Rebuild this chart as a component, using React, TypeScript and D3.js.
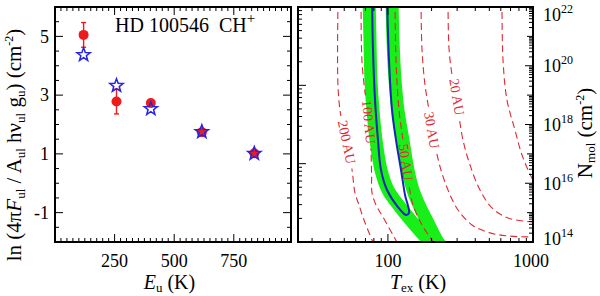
import React from "react";
import * as d3 from "d3";

type Pt = [number, number]; // [T_ex (K), log10 N_mol]

const FONT = "Liberation Serif, DejaVu Serif, serif";

// ---------- Left panel: rotation diagram ----------
const upperEnergy = [120, 258, 402, 616, 836]; // E_u (K)
const observedLn = [5.05, 2.78, 2.73, 1.74, 1.02]; // red circles
const observedErr = [0.42, 0.42, 0.08, 0.06, 0.05];
const modelLn = [4.4, 3.35, 2.56, 1.78, 1.04]; // blue stars
const energyTicks = [250, 500, 750];
const lnTicks = [-1, 1, 3, 5];

// ---------- Right panel: T_ex vs N_mol ----------
const tempTicks = [100, 1000];
const columnExps = [14, 16, 18, 20, 22];

const curve200AU: Pt[] = [[45.3, 22.2], [45.3, 19.28], [47.5, 18.26], [52.2, 17.4], [56.6, 16.45], [59.3, 15.67], [63.2, 15.26], [68.4, 14.75], [77.7, 14.07], [80.5, 13.9]];
const curve100AU: Pt[] = [[65.3, 22.2], [66.3, 20.13], [70.6, 18.83], [74.1, 18.09], [76.4, 17.13], [77.2, 16.28], [77.7, 15.67], [82.8, 15.26], [92.5, 14.85], [115.5, 14.0], [121, 13.85]];
const curve50AU: Pt[] = [[111.9, 22.2], [113.7, 20.2], [119.2, 18.49], [127.0, 17.47], [133.2, 16.72], [139.7, 15.94], [148.9, 15.26], [171.8, 14.58], [204.5, 14.0], [212, 13.85]];
const curve30AU: Pt[] = [[169.1, 22.2], [171.8, 20.54], [180.2, 19.34], [191.9, 18.49], [201.3, 17.81], [214.5, 17.13], [232.2, 16.45], [259.5, 15.77], [304.1, 15.09], [379.8, 14.58], [505.2, 14.31], [694.3, 14.2], [1000, 14.17], [1100, 14.16]];
const curve20AU: Pt[] = [[259.5, 22.2], [263.6, 20.6], [276.5, 19.69], [294.6, 18.94], [309.0, 18.26], [329.2, 17.47], [368.0, 16.62], [431.2, 15.77], [521.6, 15.16], [672.7, 14.82], [1000, 14.68], [1100, 14.67]];
const curve10AU: Pt[] = [[611.4, 22.2], [621.2, 20.2], [662.0, 18.83], [751.5, 17.81], [840, 16.96], [1000, 16.11], [1100, 15.8]];

const radiusLabels = ["200 AU", "100 AU", "50 AU", "30 AU", "20 AU", ""];
const radiusCurves = [curve200AU, curve100AU, curve50AU, curve30AU, curve20AU, curve10AU];
const labelAnchors: (Pt | null)[] = [[52.2, 17.4], [74.1, 18.09], [133.2, 16.72], [201.3, 17.81], [299.4, 18.94], null];

const fitBandLeft: Pt[] = [[74.1, 22.3], [75.2, 20.88], [76.4, 19.52], [78.9, 18.49], [82.8, 17.47], [89.6, 16.45], [100.1, 15.77], [121.1, 15.19], [148.9, 14.65], [195.0, 14.0], [228.6, 13.66]];
const fitBandRight: Pt[] = [[106.7, 22.3], [108.4, 20.88], [111.9, 19.52], [117.3, 18.49], [127.0, 17.47], [137.5, 16.45], [148.9, 15.77], [166.4, 15.19], [188.9, 14.65], [221.4, 14.0], [251.4, 13.66]];
const bestContour: Pt[] = [[77.7, 22.3], [78.9, 20.54], [81.5, 18.83], [85.4, 17.47], [89.6, 16.45], [98.6, 15.77], [117.3, 15.19], [133.2, 14.92], [139.7, 14.99], [131.2, 15.6], [123.1, 16.45], [113.7, 17.47], [106.7, 18.49], [101.7, 20.2], [98.6, 22.3]];

// ---------- scales ----------
const L = { x0: 55, x1: 291, y0: 7, y1: 242 };
const R = { x0: 298, x1: 533, y0: 7, y1: 242 };
const xL = d3.scaleLinear().domain([0, 990]).range([L.x0, L.x1]);
const yL = d3.scaleLinear().domain([-2, 6]).range([L.y1, L.y0]);
const xR = d3.scaleLog().domain([24, 1000]).range([R.x0, R.x1]);
const yR = d3.scaleLinear().domain([14, 22]).range([R.y1, R.y0]); // log10 N
const yRL = d3.scaleLog().domain([1, 1000]).range([R.y1, R.y0]);

const RED = "#ee1b1b";
const BLUE = "#2424e6";
const DASH = "#dd2a35";

function starPath(cx: number, cy: number, ro: number, ri: number) {
  const pts: string[] = [];
  for (let i = 0; i < 10; i++) {
    const r = i % 2 === 0 ? ro : ri;
    const a = -Math.PI / 2 + (i * Math.PI) / 5;
    pts.push(`${cx + r * Math.cos(a)},${cy + r * Math.sin(a)}`);
  }
  return "M" + pts.join("L") + "Z";
}

export default function App() {
  const lineR = d3
    .line<Pt>()
    .x((d) => xR(d[0]))
    .y((d) => yR(d[1]))
    .curve(d3.curveCatmullRom.alpha(0.5));

  const lxMinor = d3.range(25, 990, 25).filter((v) => v % 250 !== 0);
  const lyMinor = d3.range(-1.5, 6, 0.5).filter((v) => !lnTicks.includes(v));

  const rxMinor: number[] = [];
  [10, 100].forEach((dec) => d3.range(2, 10).forEach((m) => { const v = m * dec; if (v > 24 && v < 1000) rxMinor.push(v); }));
  const ryMinor: number[] = [];
  d3.range(14, 22).forEach((e) => d3.range(2, 10).forEach((m) => ryMinor.push(e + Math.log10(m))));
  const ryMid = d3.range(15, 22, 2);
  const rlMinor: number[] = [];
  [1, 10, 100].forEach((dec) => d3.range(2, 10).forEach((m) => rlMinor.push(m * dec)));

  const labels = radiusLabels
    .map((txt, i) => {
      const a = labelAnchors[i];
      if (!a || !txt) return null;
      const pts = radiusCurves[i];
      let best = 0;
      let bd = Infinity;
      pts.forEach((p, j) => {
        const d = Math.abs(yR(p[1]) - yR(a[1])) + Math.abs(xR(p[0]) - xR(a[0]));
        if (d < bd) { bd = d; best = j; }
      });
      const p0 = pts[Math.max(0, best - 1)];
      const p1 = pts[Math.min(pts.length - 1, best + 1)];
      const ang = (Math.atan2(yR(p1[1]) - yR(p0[1]), xR(p1[0]) - xR(p0[0])) * 180) / Math.PI;
      return { txt, x: xR(a[0]), y: yR(a[1]), ang, w: txt.length * 7.6 + 8 };
    })
    .filter(Boolean) as { txt: string; x: number; y: number; ang: number; w: number }[];

  const bandPath = lineR([...fitBandLeft, ...fitBandRight.slice().reverse()]) || "";
  const labelY = (v: number) => Math.min(Math.max(yR(v), 15), 239);

  return (
    <svg width={600} height={296} style={{ position: "absolute", left: 0, top: 0, background: "#fff", fontFamily: FONT }}>
      <defs>
        <clipPath id="clipR">
          <rect x={R.x0} y={R.y0} width={R.x1 - R.x0} height={R.y1 - R.y0} />
        </clipPath>
        <mask id="lblMask" maskUnits="userSpaceOnUse" x={0} y={0} width={600} height={296}>
          <rect x={0} y={0} width={600} height={296} fill="white" />
          {labels.map((l, i) => (
            <rect key={i} x={-l.w / 2} y={-8} width={l.w} height={16} fill="black" transform={`translate(${l.x},${l.y}) rotate(${l.ang})`} />
          ))}
        </mask>
      </defs>
      <rect x={0} y={0} width={600} height={296} fill="#fff" />

      {/* ===== Left panel ===== */}
      <g>
        {upperEnergy.map((e, i) => (
          <g key={"eb" + i} stroke={RED} strokeWidth={1.4}>
            <line x1={xL(e)} x2={xL(e)} y1={yL(observedLn[i] - observedErr[i])} y2={yL(observedLn[i] + observedErr[i])} />
            <line x1={xL(e) - 2.5} x2={xL(e) + 2.5} y1={yL(observedLn[i] - observedErr[i])} y2={yL(observedLn[i] - observedErr[i])} />
            <line x1={xL(e) - 2.5} x2={xL(e) + 2.5} y1={yL(observedLn[i] + observedErr[i])} y2={yL(observedLn[i] + observedErr[i])} />
          </g>
        ))}
        {upperEnergy.map((e, i) => (
          <circle key={"c" + i} cx={xL(e)} cy={yL(observedLn[i])} r={5} fill={RED} />
        ))}
        {upperEnergy.map((e, i) => (
          <path key={"s" + i} d={starPath(xL(e), yL(modelLn[i]) + 0.8, 7, 2.9)} fill="none" stroke={BLUE} strokeWidth={1.5} />
        ))}

        <g stroke="#000" strokeWidth={1}>
          {lxMinor.map((v) => (
            <g key={"lxm" + v}>
              <line x1={xL(v)} x2={xL(v)} y1={L.y1} y2={L.y1 - 4} />
              <line x1={xL(v)} x2={xL(v)} y1={L.y0} y2={L.y0 + 4} />
            </g>
          ))}
          {energyTicks.map((v) => (
            <g key={"lxM" + v}>
              <line x1={xL(v)} x2={xL(v)} y1={L.y1} y2={L.y1 - 8} />
              <line x1={xL(v)} x2={xL(v)} y1={L.y0} y2={L.y0 + 8} />
            </g>
          ))}
          {lyMinor.map((v) => (
            <g key={"lym" + v}>
              <line x1={L.x0} x2={L.x0 + 4} y1={yL(v)} y2={yL(v)} />
              <line x1={L.x1} x2={L.x1 - 4} y1={yL(v)} y2={yL(v)} />
            </g>
          ))}
          {lnTicks.map((v) => (
            <g key={"lyM" + v}>
              <line x1={L.x0} x2={L.x0 + 8} y1={yL(v)} y2={yL(v)} />
              <line x1={L.x1} x2={L.x1 - 8} y1={yL(v)} y2={yL(v)} />
            </g>
          ))}
        </g>
        <rect x={L.x0} y={L.y0} width={L.x1 - L.x0} height={L.y1 - L.y0} fill="none" stroke="#000" strokeWidth={2} />

        {energyTicks.map((v) => (
          <text key={"lxl" + v} x={xL(v)} y={267} fontSize={18} textAnchor="middle">{v}</text>
        ))}
        {lnTicks.map((v) => (
          <text key={"lyl" + v} x={49} y={yL(v)} dy="0.35em" fontSize={18} textAnchor="end">{v}</text>
        ))}
        <text x={xL(480)} y={289} fontSize={20} textAnchor="middle">
          <tspan fontStyle="italic">E</tspan>
          <tspan fontSize={13} dy={3}>u</tspan>
          <tspan dy={-3}> (K)</tspan>
        </text>
        <text transform="translate(21,145) rotate(-90)" fontSize={21} textAnchor="middle">
          <tspan>ln (4π</tspan>
          <tspan fontStyle="italic">F</tspan>
          <tspan fontSize={13} dy={4}>ul</tspan>
          <tspan dy={-4}> / A</tspan>
          <tspan fontSize={13} dy={4}>ul</tspan>
          <tspan dy={-4}> hν</tspan>
          <tspan fontSize={13} dy={4}>ul</tspan>
          <tspan dy={-4}> g</tspan>
          <tspan fontSize={13} dy={4}>u</tspan>
          <tspan dy={-4}>) (cm</tspan>
          <tspan fontSize={12} dy={-8}>-2</tspan>
          <tspan dy={8}>)</tspan>
        </text>
        <text x={115} y={32} fontSize={20} style={{ whiteSpace: "pre" }}>
          {"HD 100546  CH"}
          <tspan fontSize={15} dy={-9}>+</tspan>
        </text>
      </g>

      {/* ===== Right panel ===== */}
      <g clipPath="url(#clipR)">
        <path d={bandPath} fill="none" stroke="#18ee18" strokeWidth={13} strokeLinejoin="round" />
        <path d={lineR(bestContour) || ""} fill="none" stroke="#1c24b8" strokeWidth={2} />
        <g mask="url(#lblMask)">
          {radiusCurves.map((c, i) => (
            <path key={"rc" + i} d={lineR(c) || ""} fill="none" stroke={DASH} strokeWidth={1.1} strokeDasharray="7 4" />
          ))}
        </g>
        {labels.map((l, i) => (
          <text key={"rl" + i} transform={`translate(${l.x},${l.y}) rotate(${l.ang})`} textAnchor="middle" dy="0.35em" fontSize={14} fill={DASH}>
            {l.txt}
          </text>
        ))}
      </g>

      <g stroke="#000" strokeWidth={1}>
        {rxMinor.map((v) => (
          <g key={"rxm" + v}>
            <line x1={xR(v)} x2={xR(v)} y1={R.y1} y2={R.y1 - 4} />
            <line x1={xR(v)} x2={xR(v)} y1={R.y0} y2={R.y0 + 4} />
          </g>
        ))}
        {tempTicks.map((v) => (
          <g key={"rxM" + v}>
            <line x1={xR(v)} x2={xR(v)} y1={R.y1} y2={R.y1 - 8} />
            <line x1={xR(v)} x2={xR(v)} y1={R.y0} y2={R.y0 + 8} />
          </g>
        ))}
        {ryMinor.map((v, i) => (
          <line key={"rym" + i} x1={R.x1} x2={R.x1 - 4} y1={yR(v)} y2={yR(v)} />
        ))}
        {ryMid.map((v) => (
          <line key={"rymid" + v} x1={R.x1} x2={R.x1 - 6} y1={yR(v)} y2={yR(v)} />
        ))}
        {columnExps.map((v) => (
          <line key={"ryM" + v} x1={R.x1} x2={R.x1 - 8} y1={yR(v)} y2={yR(v)} />
        ))}
        {rlMinor.map((v) => (
          <line key={"rlm" + v} x1={R.x0} x2={R.x0 + 4} y1={yRL(v)} y2={yRL(v)} />
        ))}
        {[10, 100].map((v) => (
          <line key={"rlM" + v} x1={R.x0} x2={R.x0 + 8} y1={yRL(v)} y2={yRL(v)} />
        ))}
      </g>
      <rect x={R.x0} y={R.y0} width={R.x1 - R.x0} height={R.y1 - R.y0} fill="none" stroke="#000" strokeWidth={2} />

      {tempTicks.map((v) => (
        <text key={"rxl" + v} x={v === 1000 ? 531 : xR(v)} y={267} fontSize={18} textAnchor="middle">{v}</text>
      ))}
      {columnExps.map((v) => (
        <text key={"ryl" + v} x={543} y={labelY(v)} dy="0.35em" fontSize={18}>
          10
          <tspan fontSize={12} dy={-8}>{v}</tspan>
        </text>
      ))}
      <text x={418} y={289} fontSize={20} textAnchor="middle">
        <tspan fontStyle="italic">T</tspan>
        <tspan fontSize={13} dy={3}>ex</tspan>
        <tspan dy={-3}> (K)</tspan>
      </text>
      <text transform="translate(592,133) rotate(-90)" fontSize={21} textAnchor="middle">
        <tspan>N</tspan>
        <tspan fontSize={13} dy={3}>mol</tspan>
        <tspan dy={-3}> (cm</tspan>
        <tspan fontSize={12} dy={-8}>-2</tspan>
        <tspan dy={8}>)</tspan>
      </text>
    </svg>
  );
}
